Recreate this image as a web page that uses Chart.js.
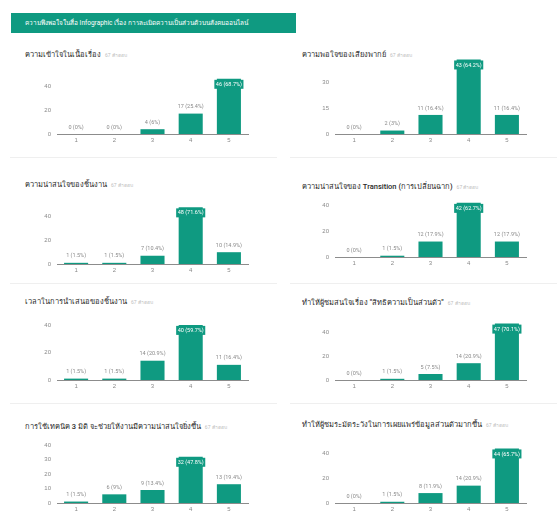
<!DOCTYPE html>
<html lang="th">
<head>
<meta charset="utf-8">
<title>ความพึงพอใจในสื่อ Infographic</title>
<script src="https://cdn.jsdelivr.net/npm/chart.js@4.4.1/dist/chart.umd.min.js"></script>
<style>
    body { margin: 0; width: 557px; height: 520px; background: #fff; position: relative; overflow: hidden;
           font-family: Roboto, "Noto Sans", "DejaVu Sans", sans-serif; }
    .header { position: absolute; left: 11px; top: 13px; width: 285px; height: 20px; background: #0f9a81;
              color: #fff; font-size: 6.5px; line-height: 20px; padding-left: 14px; box-sizing: border-box; white-space: nowrap; }
    .title { position: absolute; font-size: 7.5px; font-weight: 500; color: #2a2a2a; white-space: nowrap; }
    .title span { font-size: 5px; font-weight: 400; color: #bdbdbd; margin-left: 4px; }
    .sep { position: absolute; height: 1px; background: #efefef; }
    canvas { position: absolute; }
</style>
</head>
<body>
<div class="header">ความพึงพอใจในสื่อ Infographic เรื่อง การละเมิดความเป็นส่วนตัวบนสังคมออนไลน์</div>
<div id="panels"></div>

<script>
// ── Data ────────────────────────────────────────────────────────────────────

const categories = ['1', '2', '3', '4', '5'];
const totalResponses = 67;

const titles = [
    'ความเข้าใจในเนื้อเรื่อง',
    'ความพอใจของเสียงพากย์',
    'ความน่าสนใจของชิ้นงาน',
    'ความน่าสนใจของ Transition (การเปลี่ยนฉาก)',
    'เวลาในการนำเสนอของชิ้นงาน',
    'ทำให้ผู้ชมสนใจเรื่อง "สิทธิความเป็นส่วนตัว"',
    'การใช้เทคนิค 3 มิติ จะช่วยให้งานมีความน่าสนใจยิ่งขึ้น',
    'ทำให้ผู้ชมระมัดระวังในการเผยแพร่ข้อมูลส่วนตัวมากขึ้น',
];

const understanding   = [0, 0, 4, 17, 46];
const voiceOver       = [0, 2, 11, 43, 11];
const workInterest    = [1, 1, 7, 48, 10];
const transition      = [0, 1, 12, 42, 12];
const presentTime     = [1, 1, 14, 40, 11];
const privacyInterest = [0, 1, 5, 14, 47];
const technique3d     = [1, 6, 9, 32, 13];
const carefulSharing  = [0, 1, 8, 14, 44];

const ticksBy20 = [0, 20, 40];
const ticksBy15 = [0, 15, 30];
const ticksBy10 = [0, 10, 20, 30, 40];

// ── Layout (positions only) ────────────────────────────────────────────────

const LEFT = { canvasX: 27, titleX: 25, sepX: 10 };
const RIGHT = { canvasX: 305, titleX: 302, sepX: 290 };
const PAD_TOP = 12;
const X_AXIS_H = 16;

const panels = [
    { col: LEFT,  titleY: 48,  baseline: 134, areaH: 60, ymax: 50, data: understanding,   ticks: ticksBy20 },
    { col: RIGHT, titleY: 48,  baseline: 134, areaH: 78, ymax: 45, data: voiceOver,       ticks: ticksBy15 },
    { col: LEFT,  titleY: 178, baseline: 264, areaH: 59, ymax: 50, data: workInterest,    ticks: ticksBy20 },
    { col: RIGHT, titleY: 180, baseline: 257, areaH: 58, ymax: 45, data: transition,      ticks: ticksBy20 },
    { col: LEFT,  titleY: 295, baseline: 380, areaH: 62, ymax: 45, data: presentTime,     ticks: ticksBy20 },
    { col: RIGHT, titleY: 296, baseline: 380, areaH: 60, ymax: 50, data: privacyInterest, ticks: ticksBy20 },
    { col: LEFT,  titleY: 420, baseline: 503, areaH: 65, ymax: 45, data: technique3d,     ticks: ticksBy10 },
    { col: RIGHT, titleY: 418, baseline: 503, areaH: 62, ymax: 50, data: carefulSharing,  ticks: ticksBy20 },
];

const BAR = '#0f9a81';
const TEXT_GREY = '#8a8a8a';

// ── Bar value labels ("17 (25.4%)") ────────────────────────────────────────

const pctLabel = (v) => `${v} (${+(v / totalResponses * 100).toFixed(1)}%)`;

const barLabels = {
    id: 'barLabels',
    afterDatasetsDraw(chart) {
        const { ctx } = chart;
        const values = chart.data.datasets[0].data;
        const maxV = Math.max(...values);
        ctx.save();
        ctx.textAlign = 'center';
        chart.getDatasetMeta(0).data.forEach((bar, i) => {
            const v = values[i];
            const text = pctLabel(v);
            if (v === maxV) {
                // the top bar gets its label inside, on a teal chip that may overhang the bar
                ctx.font = '5.5px Roboto, "Noto Sans", sans-serif';
                const w = ctx.measureText(text).width + 3;
                ctx.fillStyle = BAR;
                ctx.fillRect(bar.x - w / 2, bar.y + 1, w, 9);
                ctx.fillStyle = '#ffffff';
                ctx.textBaseline = 'top';
                ctx.fillText(text, bar.x, bar.y + 3);
            } else {
                ctx.font = '5.5px Roboto, "Noto Sans", sans-serif';
                ctx.fillStyle = TEXT_GREY;
                ctx.textBaseline = 'bottom';
                ctx.fillText(text, bar.x, bar.y - 4);
            }
        });
        ctx.restore();
    },
};

// ── Build panels ───────────────────────────────────────────────────────────

const host = document.getElementById('panels');

[157, 283, 403].forEach((y) => {
    [LEFT, RIGHT].forEach((col) => {
        const s = document.createElement('div');
        s.className = 'sep';
        s.style.left = col.sepX + 'px';
        s.style.top = y + 'px';
        s.style.width = '267px';
        host.appendChild(s);
    });
});

panels.forEach((p, idx) => {
    const t = document.createElement('div');
    t.className = 'title';
    t.style.left = p.col.titleX + 'px';
    t.style.top = p.titleY + 'px';
    t.innerHTML = `${titles[idx]}<span>${totalResponses} คำตอบ</span>`;
    host.appendChild(t);

    const canvas = document.createElement('canvas');
    const h = PAD_TOP + p.areaH + X_AXIS_H;
    canvas.width = 226;
    canvas.height = h;
    canvas.style.left = p.col.canvasX + 'px';
    canvas.style.top = (p.baseline - p.areaH - PAD_TOP) + 'px';
    canvas.style.width = '226px';
    canvas.style.height = h + 'px';
    host.appendChild(canvas);

    new Chart(canvas.getContext('2d'), {
        type: 'bar',
        data: {
            labels: categories,
            datasets: [{
                data: p.data,
                backgroundColor: BAR,
                barPercentage: 0.63,
                categoryPercentage: 1,
            }],
        },
        options: {
            responsive: false,
            animation: false,
            layout: { padding: { top: PAD_TOP, right: 5, left: 0, bottom: 0 } },
            plugins: { legend: { display: false }, tooltip: { enabled: false } },
            scales: {
                x: {
                    grid: { display: false, drawTicks: false },
                    border: { display: true, color: '#8c8c8c', width: 1 },
                    ticks: { color: TEXT_GREY, font: { size: 6 }, padding: 3 },
                    afterFit: (s) => { s.height = X_AXIS_H; },
                },
                y: {
                    min: 0,
                    max: p.ymax,
                    grid: { display: false, drawTicks: false },
                    border: { display: false },
                    afterBuildTicks: (s) => { s.ticks = p.ticks.map((v) => ({ value: v })); },
                    ticks: { color: TEXT_GREY, font: { size: 6 }, padding: 6 },
                    afterFit: (s) => { s.width = 30; },
                },
            },
        },
        plugins: [barLabels],
    });
});
</script>
</body>
</html>
